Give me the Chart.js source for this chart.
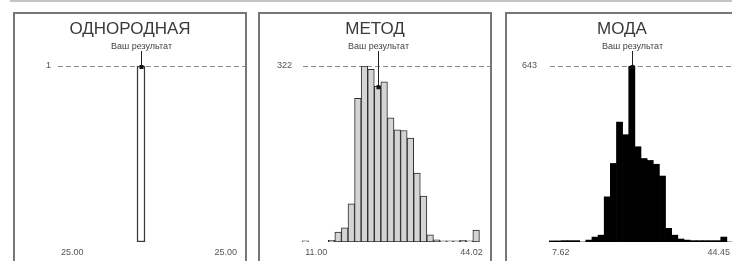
<!DOCTYPE html>
<html>
<head>
<meta charset="utf-8">
<script src="https://cdn.jsdelivr.net/npm/chart.js@4.4.0/dist/chart.umd.min.js"></script>
<style>
body { margin:0; width:732px; height:261px; overflow:hidden; background:#fff; position:relative; font-family:"Liberation Sans", Arial, sans-serif; }
#topLine { position:absolute; left:10px; top:0; width:722px; height:2px; background:#c4c4c4; }
.panel { position:absolute; top:12px; width:234px; height:251px; border:2px solid #777; box-sizing:border-box; }
.panel canvas { position:absolute; left:0; top:0; }
</style>
</head>
<body>
<div id="topLine"></div>
<div class="panel" style="left:13px"><canvas id="uniformChart" width="230" height="247"></canvas></div>
<div class="panel" style="left:258px"><canvas id="methodChart" width="230" height="247"></canvas></div>
<div class="panel" style="left:505px"><canvas id="modeChart" width="230" height="247"></canvas></div>
<script>
'use strict'

var markerText = "Ваш результат"

// ОДНОРОДНАЯ
var uniformTitle = "ОДНОРОДНАЯ"
var uniformCounts = [0,0,0,0,0,0,0,0,0,0,1,0,0,0,0,0,0,0,0,0,0,0,0]
var uniformRange = ["25.00", "25.00"]
var uniformResultBin = 10

// МЕТОД
var methodTitle = "МЕТОД"
var methodCounts = [2,0,0,0,3,18,26,70,263,322,316,285,293,227,205,204,190,126,84,13,4,2,2,2,3,2,22,0]
var methodRange = ["11.00", "44.02"]
var methodResultBin = 11

// МОДА
var modeTitle = "МОДА"
var modeCounts = [4,4,5,5,5,0,7,18,25,165,287,438,392,643,348,305,298,284,241,50,25,11,7,5,5,5,5,5,18,0]
var modeRange = ["7.62", "44.45"]
var modeResultBin = 13

// draws title, dashed max line and the "Ваш результат" marker
var panelDecor = {
    id: 'panelDecor',
    beforeDatasetsDraw: function(chart){
        var ctx = chart.ctx
        var area = chart.chartArea
        var yScale = chart.scales.y
        var yTop = Math.round(yScale.getPixelForValue(yScale.max)) + 0.5
        ctx.save()
        ctx.strokeStyle = '#8e8e8e'
        ctx.lineWidth = 1
        ctx.setLineDash([5, 3])
        ctx.beginPath()
        ctx.moveTo(area.left + 1, yTop)
        ctx.lineTo(chart.width, yTop)
        ctx.stroke()
        ctx.restore()
    },
    afterDatasetsDraw: function(chart, args, opts){
        var ctx = chart.ctx
        var xScale = chart.scales.x
        var yScale = chart.scales.y
        var counts = chart.data.datasets[0].data
        var mx = Math.round(xScale.getPixelForValue(opts.bin)) + 0.5
        var my = yScale.getPixelForValue(counts[opts.bin])
        ctx.save()
        ctx.fillStyle = '#3a3a3a'
        ctx.textAlign = 'center'
        ctx.textBaseline = 'alphabetic'
        ctx.font = '17px "Liberation Sans", Arial, sans-serif'
        ctx.fillText(opts.title, chart.width / 2, 20)
        ctx.font = '9px "Liberation Sans", Arial, sans-serif'
        ctx.fillStyle = '#444'
        ctx.fillText(markerText, mx, 35)
        ctx.strokeStyle = '#222'
        ctx.lineWidth = 1
        ctx.beginPath()
        ctx.moveTo(mx, 37)
        ctx.lineTo(mx, my)
        ctx.stroke()
        ctx.fillStyle = '#111'
        ctx.fillRect(mx - 2, my - 1, 4, 4)
        ctx.restore()
    }
}

function makePanel(canvasId, title, counts, range, resultBin, fill, border, borderWidth, yPad){
    var labels = []
    for(let i = 0; i < counts.length; i++){
        labels.push(i)
    }
    var yMax = Math.max.apply(null, counts)
    var last = counts.length - 1
    new Chart(document.getElementById(canvasId), {
        type: 'bar',
        data: {
            labels: labels,
            datasets: [{
                data: counts,
                backgroundColor: fill,
                borderColor: border,
                borderWidth: borderWidth,
                borderSkipped: false,
                barPercentage: 1,
                categoryPercentage: 1
            }]
        },
        options: {
            responsive: false,
            animation: false,
            layout: { padding: { top: 52, right: 4, left: 0, bottom: 0 } },
            plugins: {
                legend: { display: false },
                tooltip: { enabled: false },
                panelDecor: { title: title, bin: resultBin }
            },
            scales: {
                x: {
                    grid: { display: false, drawTicks: false },
                    border: { display: false },
                    afterFit: function(scale){ scale.height = 19 },
                    ticks: {
                        autoSkip: false,
                        maxRotation: 0,
                        align: 'inner',
                        padding: 5,
                        color: '#555',
                        font: { size: 9, family: '"Liberation Sans", Arial, sans-serif' },
                        callback: function(value, index){
                            if(index === 0) return range[0]
                            if(index === last) return range[1]
                            return ''
                        }
                    }
                },
                y: {
                    min: 0,
                    max: yMax,
                    grid: { display: false, drawTicks: false },
                    border: { display: false },
                    afterBuildTicks: function(scale){ scale.ticks = [{ value: yMax }] },
                    afterFit: function(scale){ scale.width = 42 },
                    ticks: {
                        padding: yPad,
                        color: '#555',
                        font: { size: 9, family: '"Liberation Sans", Arial, sans-serif' }
                    }
                }
            }
        },
        plugins: [panelDecor]
    })
}

makePanel("uniformChart", uniformTitle, uniformCounts, uniformRange, uniformResultBin, '#ffffff', '#3a3a3a', 1.5, 6)
makePanel("methodChart", methodTitle, methodCounts, methodRange, methodResultBin, '#d4d4d4', '#2a2a2a', 1, 10)
makePanel("modeChart", modeTitle, modeCounts, modeRange, modeResultBin, '#000000', '#000000', 0, 12)
</script>
</body>
</html>
